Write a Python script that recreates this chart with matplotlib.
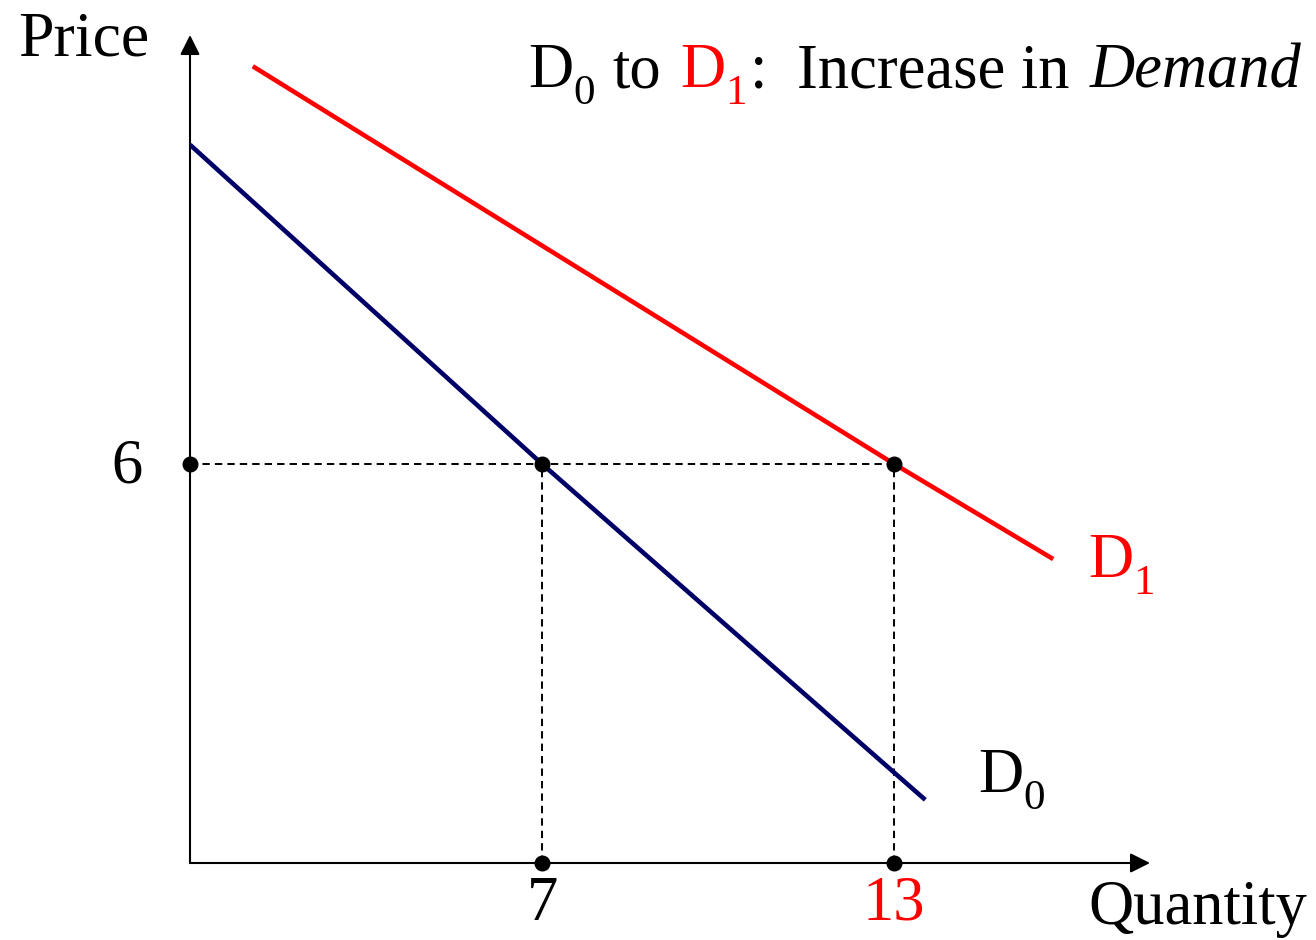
import matplotlib
matplotlib.use("Agg")
import matplotlib.pyplot as plt
from matplotlib.transforms import offset_copy

plt.rcParams['font.family'] = 'Liberation Serif'

# demand curves: quantity / price pairs
d0_q = [1.0, 7, 13.53]
d0_p = [10.8, 6, 0.95]
d1_q = [2.07, 13, 15.71]
d1_p = [11.98, 6, 4.57]

# market price and quantity demanded before / after the shift
price = 6
q_old = 7
q_new = 13

q_min, q_max = 1.0, 17.36
p_min, p_max = 0.0, 12.45

FS = 45
SUB_FS = 31
NAVY = '#000066'
RED = '#ff0000'

fig = plt.figure(figsize=(13.16, 9.4), dpi=100)
ax = fig.add_axes([190 / 1316, 77 / 940, 960 / 1316, 828 / 940])
ax.set_xlim(q_min, q_max)
ax.set_ylim(p_min, p_max)
ax.axis('off')

# axes with arrow heads
arrow = dict(arrowstyle='-|>,head_length=0.4,head_width=0.2', lw=1.5,
             color='black', mutation_scale=30, shrinkA=0, shrinkB=0)
ax.annotate('', xy=(1, 0), xytext=(0, 0), xycoords='axes fraction',
            textcoords='axes fraction', arrowprops=arrow)
ax.annotate('', xy=(0, 1), xytext=(0, 0), xycoords='axes fraction',
            textcoords='axes fraction', arrowprops=arrow)

# demand curves
ax.plot(d0_q, d0_p, color=NAVY, lw=3.3, solid_capstyle='butt', zorder=3)
ax.plot(d1_q, d1_p, color=RED, lw=3.3, solid_capstyle='butt', zorder=3)

# guide lines
dash = dict(color='black', lw=1.4, linestyle=(0, (3.8, 2.6)), zorder=2)
ax.plot([q_min, q_new], [price, price], **dash)
ax.plot([q_old, q_old], [p_min, price], **dash)
ax.plot([q_new, q_new], [p_min, price], **dash)

# points
ax.plot([q_min, q_old, q_new, q_old, q_new],
        [price, price, price, p_min, p_min],
        'o', color='black', ms=10.5, zorder=5, clip_on=False)


def d_label(x, y, sub, color, transform):
    ax.text(x, y, 'D', fontsize=FS, color=color, transform=transform,
            ha='left', va='baseline')
    tr = offset_copy(transform, fig=fig, x=0.72 * FS, y=-12, units='points')
    ax.text(x, y, sub, fontsize=SUB_FS, color=color, transform=tr,
            ha='left', va='baseline')


# curve labels
d_label(16.3, 4.3, '1', RED, ax.transData)
d_label(14.43, 1.07, '0', 'black', ax.transData)

# tick values
ax.annotate(str(price), xy=(q_min, price), xytext=(-34, -13),
            textcoords='offset points', fontsize=FS, ha='right', va='baseline')
ax.annotate(str(q_old), xy=(q_old, p_min), xytext=(0, -41),
            textcoords='offset points', fontsize=FS, ha='center', va='baseline')
ax.annotate(str(q_new), xy=(q_new, p_min), xytext=(0, -41),
            textcoords='offset points', fontsize=FS, ha='center', va='baseline',
            color=RED)

# axis titles
fig.text(18 / 1316, 1 - 56 / 940, 'Price', fontsize=FS + 1, va='baseline')
fig.text(1088 / 1316, 1 - 924 / 940, 'Quantity', fontsize=FS, va='baseline')

# heading
yb = 1 - 87 / 940
d_label(528 / 1316, yb, '0', 'black', fig.transFigure)
fig.text(612 / 1316, yb, 'to', fontsize=FS, va='baseline')
d_label(680 / 1316, yb, '1', RED, fig.transFigure)
fig.text(750 / 1316, yb, ':', fontsize=FS, va='baseline')
fig.text(797 / 1316, yb, 'Increase in', fontsize=FS, va='baseline')
fig.text(1090 / 1316, yb, 'Demand', fontsize=FS, va='baseline', style='italic')

fig.savefig('out.png', dpi=100)
